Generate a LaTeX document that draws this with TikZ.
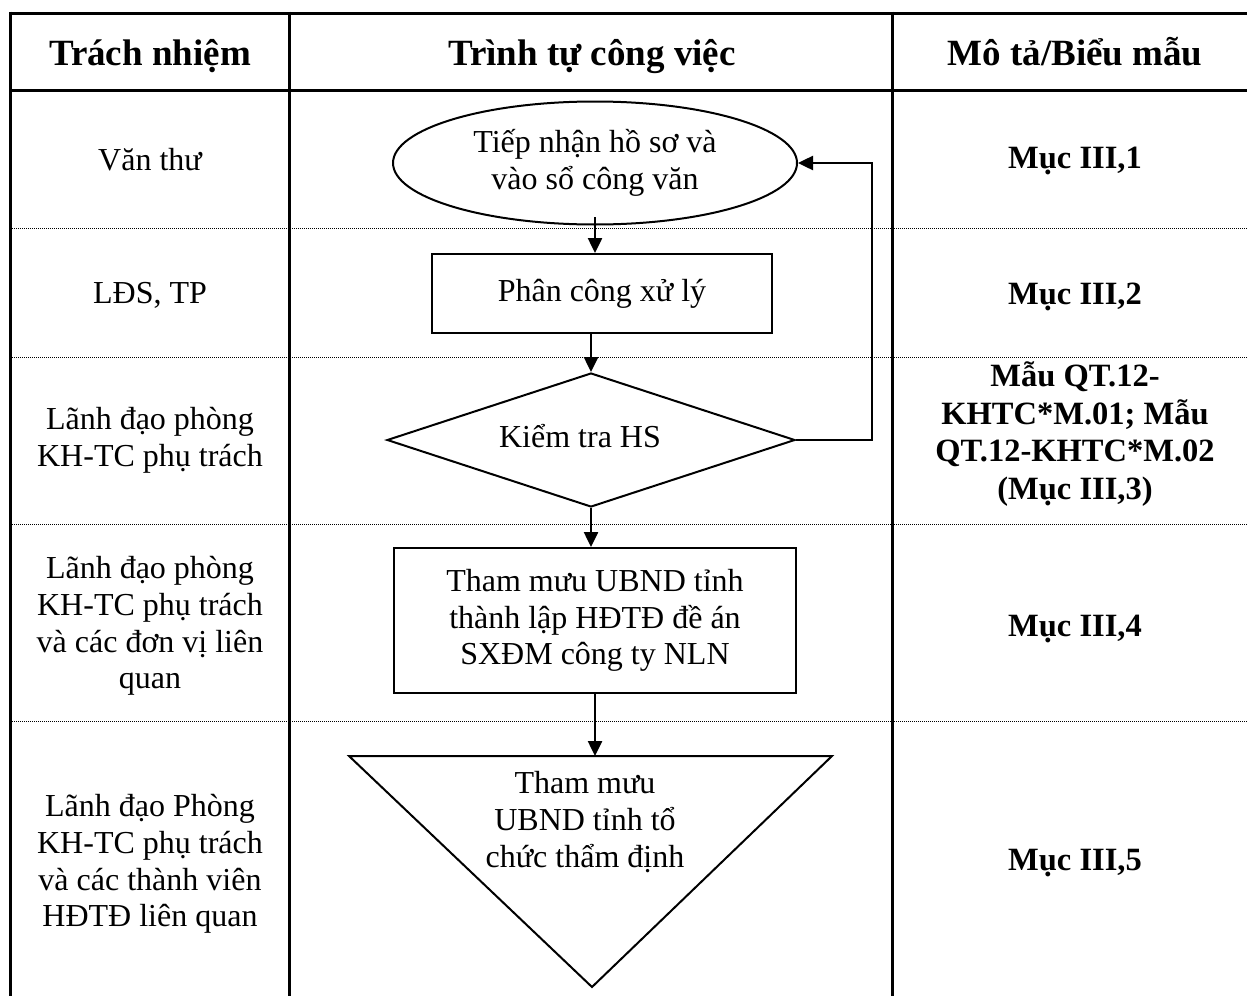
\documentclass[tikz,border=0pt]{standalone}
\usepackage{fontspec}
\setmainfont{Liberation Serif}
\usetikzlibrary{shapes.geometric,arrows.meta}
\begin{document}
\begin{tikzpicture}[x=1pt,y=-1pt,
  frame/.style={line width=3pt},
  sep/.style={line width=1pt,dash pattern=on 1pt off 1pt},
  shp/.style={draw,line width=2pt,inner sep=0pt,align=center,font=\fontsize{32}{36.8}\selectfont},
  body/.style={align=center,font=\fontsize{32}{36.8}\selectfont},
  head/.style={align=center,anchor=base,font=\fontsize{37}{42}\selectfont\bfseries},
  bold/.style={align=center,font=\fontsize{32.5}{37.5}\selectfont\bfseries},
  arr/.style={line width=2.5pt,-{Triangle[length=15pt,width=14pt]}}
]
\useasboundingbox (0,0) rectangle (1247,996);
% table
\draw[frame] (10,13) -- (1247,13);
\draw[frame] (10,90) -- (1247,90);
\draw[frame] (10,11.5) -- (10,996);
\draw[frame] (289,11.5) -- (289,996);
\draw[frame] (892,11.5) -- (892,996);
\foreach \yy in {228,357,524,721} \draw[sep] (10,\yy) -- (1247,\yy);
% headers
\node[head] (h1) at (150,65) {Trách nhiệm};
\node[head] (h2) at (592,65) {Trình tự công việc};
\node[head] (h3) at (1075,65) {Mô tả/Biểu mẫu};
% column 1
\node[body] (r1) at (150,160) {Văn thư};
\node[body] (r2) at (150,295) {LĐS, TP};
\node[body] (r3) at (150,440) {Lãnh đạo phòng\\KH-TC phụ trách};
\node[body] (r4) at (150,626) {Lãnh đạo phòng\\KH-TC phụ trách\\và các đơn vị liên\\quan};
\node[body] (r5) at (150,864) {Lãnh đạo Phòng\\KH-TC phụ trách\\và các thành viên\\HĐTĐ liên quan};
% column 3
\node[bold] (m1) at (1075,161) {Mục III,1};
\node[bold] (m2) at (1075,297) {Mục III,2};
\node[bold] (m3) at (1075,434) {Mẫu QT.12-\\KHTC*M.01; Mẫu\\QT.12-KHTC*M.02\\(Mục III,3)};
\node[bold] (m4) at (1075,629) {Mục III,4};
\node[bold] (m5) at (1075,863) {Mục III,5};
% flow
\node[shp,ellipse,minimum width=404pt,minimum height=123pt] (tn) at (595,163) {Tiếp nhận hồ sơ và\\vào sổ công văn};
\node[shp,rectangle,minimum width=340pt,minimum height=79pt] (pc) at (602,293.5) {Phân công xử lý};
\node[shp,diamond,minimum width=408pt,minimum height=134pt] (kt) at (591,440) {};
\node[body] (ktt) at (580,436) {Kiểm tra HS};
\node[shp,rectangle,minimum width=402pt,minimum height=145pt] (tm) at (595,620.5) {Tham mưu UBND tỉnh\\thành lập HĐTĐ đề án\\SXĐM công ty NLN};
\coordinate (tl) at (349,756);
\coordinate (tr) at (832,756);
\coordinate (tb) at (592,987);
\coordinate (tt) at (595,756);
\draw[line width=2pt,line join=miter] (tl) -- (tr) -- (tb) -- cycle;
\node[body] (tdt) at (585,822) {Tham mưu\\UBND tỉnh tổ\\chức thẩm định};
% connectors
\draw[arr] (595,217) -- (tn.south |- pc.north);
\draw[arr] (kt.north |- pc.south) -- (kt.north);
\draw[arr] (kt.south) -- (kt.south |- tm.north);
\draw[arr] (tm.south) -- (tt);
\coordinate (fb) at (872,440);
\draw[arr] (kt.east) -- (fb) |- (tn.east);
\end{tikzpicture}
\end{document}
